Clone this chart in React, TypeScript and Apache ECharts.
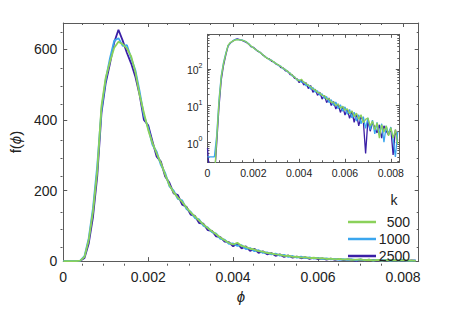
import React, { useEffect, useRef } from "react";
import * as echarts from "echarts";

// phi in units of 1e-4
const PHI_E4 = [
  0, 1, 2, 3, 4, 5, 6, 7, 8, 9,
  10, 11, 12, 13, 14, 15, 16, 17, 18, 19,
  20, 21, 22, 23, 24, 25, 26, 27, 28, 29,
  30, 31, 32, 33, 34, 35, 36, 37, 38, 39,
  40, 41, 42, 43, 44, 45, 46, 47, 48, 49,
  50, 51, 52, 53, 54, 55, 56, 57, 58, 59,
  60, 61, 62, 63, 64, 65, 66, 67, 68, 69,
  70, 71, 72, 73, 74, 75, 76, 77, 78, 79,
  80, 81, 82, 83,
];

const K_NAMES = ["500", "1000", "2500"];
const K_COLORS = ["#8bd15a", "#3ba6ee", "#3a1fa6"];

const F_500 = [
  0.1, 0.1, 0.1, 0.1, 1.2, 12, 60, 140, 255, 440,
  520, 565, 605, 622, 615, 603, 580, 535, 470, 420,
  372, 335, 305, 278, 245, 215, 195, 180, 168, 152,
  138, 127, 115, 104, 94, 85, 76, 67, 59, 52,
  47, 52, 43, 40, 35, 33, 28, 27, 23, 22,
  19, 18.5, 15, 15.5, 12, 12.5, 10, 11, 8.5, 9.5,
  7.5, 8.2, 6, 7.2, 5, 6.2, 4.2, 5.6, 3.4, 4.2,
  4.6, 2.8, 3.8, 2.2, 3.4, 1.3, 3, 1.9, 2.8, 1.5,
  2.5, 1.3, 2.2, 0.9,
];

const F_1000 = [
  0.4, 0.4, 0.4, 0.4, 1.5, 14, 65, 150, 270, 430,
  515, 575, 625, 632, 610, 612, 575, 540, 480, 412,
  378, 330, 310, 272, 250, 212, 200, 176, 172, 148,
  140, 122, 118, 100, 96, 82, 78, 63, 61, 49,
  50, 43, 45, 34, 37, 28, 31, 23, 25, 19,
  21, 15.5, 17.5, 12, 14.5, 10, 12.5, 8.2, 10.5, 7,
  9.2, 5.8, 7.8, 4.6, 6.6, 3.8, 5.6, 3.2, 5, 2.4,
  4.6, 2.2, 4, 1.7, 3.5, 1.6, 3.2, 1, 2.8, 1.7,
  2.6, 1.2, 0.4, 1.9,
];

const F_2500 = [
  0.7, 0.1, 0.1, 0.1, 0.9, 9, 50, 125, 240, 420,
  505, 560, 620, 656, 625, 590, 560, 522, 470, 400,
  385, 340, 296, 282, 240, 222, 192, 187, 160, 154,
  132, 128, 108, 106, 88, 86, 70, 68, 55, 54,
  42, 50, 36, 42, 29, 35, 23, 28, 19, 23,
  15, 19, 12, 16, 10, 13, 8, 11, 6.5, 9.5,
  5.5, 8, 4.5, 7, 3.5, 6, 2.8, 5, 3.8, 0.5,
  4, 2, 3.4, 2.6, 1.8, 3, 1.3, 2.8, 2, 1.6,
  2.4, 0.45, 2.2, 1.1,
];

const SERIES_VALUES = [F_500, F_1000, F_2500];

const X_MAJOR = [0, 0.002, 0.004, 0.006, 0.008];
const X_MINOR = [0.0005, 0.001, 0.0015, 0.0025, 0.003, 0.0035, 0.0045, 0.005, 0.0055, 0.0065, 0.007, 0.0075];
const Y_MAJOR = [0, 200, 400, 600];
const Y_MINOR = [50, 100, 150, 250, 300, 350, 450, 500, 550, 650];
const LOG_MAJOR = [1, 10, 100];
const LOG_MINOR = [
  0.3, 0.4, 0.5, 0.6, 0.7, 0.8, 0.9,
  2, 3, 4, 5, 6, 7, 8, 9,
  20, 30, 40, 50, 60, 70, 80, 90,
  200, 300, 400, 500, 600, 700, 800,
];

const X_MIN = 0;
const X_MAX = 0.00837;
const Y_MIN = 0;
const Y_MAX = 675;
const LOG_MIN = 0.285;
const LOG_MAX = 870;

const FONT = "'Liberation Sans', Arial, Helvetica, sans-serif";
const AXIS_COLOR = "#5a5a5a";
const TEXT_COLOR = "#222";

const MAIN_RECT = { left: 60.5, top: 23, width: 358.2, height: 242.7 };
const INSET_RECT = { left: 207.5, top: 34.3, width: 191.8, height: 128 };

function fmtX(v: number) {
  return v === 0 ? "0" : v.toFixed(3);
}

function tickAxis(
  gridIndex: number,
  position: string,
  type: string,
  min: number,
  max: number,
  ticks: number[],
  len: number,
  showLine: boolean,
  label: any
) {
  const a: any = {
    type,
    gridIndex,
    position,
    min,
    max,
    splitLine: { show: false },
    axisLine: { show: showLine, onZero: false, lineStyle: { color: AXIS_COLOR, width: 1 } },
    axisTick: {
      show: true,
      inside: true,
      length: len,
      customValues: ticks,
      lineStyle: { color: AXIS_COLOR, width: 1 },
    },
    minorTick: { show: false },
    axisLabel: label ? label : { show: false },
  };
  if (type === "log") a.logBase = 10;
  return a;
}

export default function App() {
  const ref = useRef<HTMLDivElement>(null);

  useEffect(() => {
    if (!ref.current) return;
    const chart = echarts.init(ref.current, undefined, { renderer: "svg" });

    const mainXLabel = {
      show: true,
      customValues: X_MAJOR,
      formatter: fmtX,
      fontSize: 14,
      fontFamily: FONT,
      color: TEXT_COLOR,
      margin: 9,
    };
    const insetXLabel = {
      show: true,
      customValues: X_MAJOR,
      formatter: fmtX,
      fontSize: 10.5,
      fontFamily: FONT,
      color: TEXT_COLOR,
      margin: 5,
    };
    const mainYLabel = {
      show: true,
      customValues: Y_MAJOR,
      fontSize: 14,
      fontFamily: FONT,
      color: TEXT_COLOR,
      margin: 6,
    };
    const insetYLabel = {
      show: true,
      customValues: LOG_MAJOR,
      formatter: (v: number) => `{b|10}{s|${Math.round(Math.log10(v))}}`,
      fontFamily: FONT,
      color: TEXT_COLOR,
      margin: 5,
      rich: {
        b: { fontSize: 10.5, fontFamily: FONT, color: TEXT_COLOR, lineHeight: 14, verticalAlign: "bottom" },
        s: { fontSize: 7, fontFamily: FONT, color: TEXT_COLOR, lineHeight: 14, verticalAlign: "top", padding: [0, 0, 5, 0] },
      },
    };

    const xAxes: any[] = [
      {
        ...tickAxis(0, "bottom", "value", X_MIN, X_MAX, X_MAJOR, 4, true, mainXLabel),
        name: "ϕ",
        nameLocation: "middle",
        nameGap: 23,
        nameTextStyle: { fontSize: 15, fontStyle: "italic", fontFamily: FONT, color: TEXT_COLOR },
      },
      tickAxis(0, "top", "value", X_MIN, X_MAX, X_MAJOR, 4, true, null),
      tickAxis(1, "bottom", "value", X_MIN, X_MAX, X_MINOR, 2, false, null),
      tickAxis(1, "top", "value", X_MIN, X_MAX, X_MINOR, 2, false, null),
      tickAxis(2, "bottom", "value", X_MIN, X_MAX, X_MAJOR, 3.5, true, insetXLabel),
      tickAxis(2, "top", "value", X_MIN, X_MAX, X_MAJOR, 3.5, true, null),
      tickAxis(3, "bottom", "value", X_MIN, X_MAX, X_MINOR, 2, false, null),
      tickAxis(3, "top", "value", X_MIN, X_MAX, X_MINOR, 2, false, null),
    ];

    const yAxes: any[] = [
      {
        ...tickAxis(0, "left", "value", Y_MIN, Y_MAX, Y_MAJOR, 4, true, mainYLabel),
        name: "{n|f(}{i|ϕ}{n|)}",
        nameLocation: "middle",
        nameGap: 33,
        nameRotate: 90,
        nameTextStyle: {
          fontFamily: FONT,
          color: TEXT_COLOR,
          rich: {
            n: { fontSize: 15, fontFamily: FONT, color: TEXT_COLOR },
            i: { fontSize: 15, fontFamily: FONT, color: TEXT_COLOR, fontStyle: "italic" },
          },
        },
      },
      tickAxis(0, "right", "value", Y_MIN, Y_MAX, Y_MAJOR, 4, true, null),
      tickAxis(1, "left", "value", Y_MIN, Y_MAX, Y_MINOR, 2, false, null),
      tickAxis(1, "right", "value", Y_MIN, Y_MAX, Y_MINOR, 2, false, null),
      tickAxis(2, "left", "log", LOG_MIN, LOG_MAX, LOG_MAJOR, 3.5, true, insetYLabel),
      tickAxis(2, "right", "log", LOG_MIN, LOG_MAX, LOG_MAJOR, 3.5, true, null),
      tickAxis(3, "left", "log", LOG_MIN, LOG_MAX, LOG_MINOR, 2, false, null),
      tickAxis(3, "right", "log", LOG_MIN, LOG_MAX, LOG_MINOR, 2, false, null),
    ];

    const order = [2, 1, 0];
    const series: any[] = [];
    order.forEach((k) => {
      const data = PHI_E4.map((p, i) => [p * 1e-4, SERIES_VALUES[k][i]]);
      series.push({
        type: "line",
        name: K_NAMES[k],
        xAxisIndex: 0,
        yAxisIndex: 0,
        data,
        symbol: "none",
        clip: true,
        lineStyle: { color: K_COLORS[k], width: 1.8 },
        itemStyle: { color: K_COLORS[k] },
        z: 3,
      });
    });
    order.forEach((k) => {
      const data = PHI_E4.map((p, i) => [p * 1e-4, SERIES_VALUES[k][i]]);
      series.push({
        type: "line",
        name: K_NAMES[k],
        xAxisIndex: 4,
        yAxisIndex: 4,
        data,
        symbol: "none",
        clip: true,
        lineStyle: { color: K_COLORS[k], width: 1.3 },
        itemStyle: { color: K_COLORS[k] },
        z: 3,
      });
    });

    chart.setOption({
      animation: false,
      backgroundColor: "#ffffff",
      grid: [
        { ...MAIN_RECT, containLabel: false },
        { ...MAIN_RECT, containLabel: false },
        { ...INSET_RECT, containLabel: false, show: true, backgroundColor: "#ffffff", borderWidth: 0 },
        { ...INSET_RECT, containLabel: false },
      ],
      xAxis: xAxes,
      yAxis: yAxes,
      legend: {
        data: K_NAMES.map((n) => ({ name: n, icon: "rect" })),
        orient: "vertical",
        left: 343,
        top: 210,
        itemWidth: 28,
        itemHeight: 2.5,
        itemGap: 3,
        selectedMode: false,
        formatter: "{a|{name}}",
        textStyle: {
          fontSize: 14,
          fontFamily: FONT,
          color: TEXT_COLOR,
          rich: {
            a: { width: 29, align: "right", fontSize: 14, fontFamily: FONT, color: TEXT_COLOR },
          },
        },
      },
      graphic: [
        {
          type: "text",
          x: 394,
          y: 200,
          style: {
            text: "k",
            fontSize: 14,
            fontFamily: FONT,
            fill: TEXT_COLOR,
            align: "center",
            verticalAlign: "middle",
          },
        },
      ],
      series,
    });

    return () => chart.dispose();
  }, []);

  return (
    <div
      ref={ref}
      style={{ position: "fixed", left: 0, top: 0, width: 463, height: 309, background: "#fff" }}
    />
  );
}
